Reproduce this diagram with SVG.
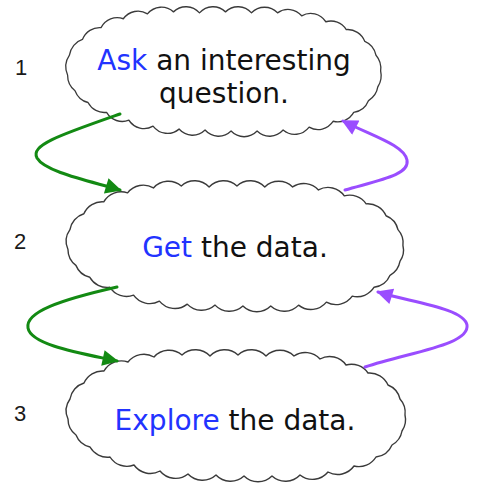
<svg xmlns="http://www.w3.org/2000/svg" xmlns:xlink="http://www.w3.org/1999/xlink" width="482" height="486" viewBox="0 0 482 486">
<style>
.cloud{fill:#fff;stroke:#3a3a3a;stroke-width:1.4;stroke-linejoin:round}
.lbl{font-family:"DejaVu Sans",Verdana,sans-serif;font-size:28px;fill:#111;text-anchor:middle}
.kw{fill:#2233ff}
.num{font-family:"Liberation Sans",Arial,sans-serif;font-size:22px;fill:#1a1a1a;text-anchor:middle}
.g{fill:none;stroke:#138a13;stroke-width:3;stroke-linecap:round}
.p{fill:none;stroke:#9a4dff;stroke-width:3;stroke-linecap:round}
</style>
<defs>
<path id="cloudShape" d="M6,72 A20,20 0 0 1 8,52 A20,20 0 0 1 22,36 A20,20 0 0 1 42,24 A20,20 0 0 1 66,15 A20,20 0 0 1 92,10 A20,20 0 0 1 120,8 A20,20 0 0 1 148,9 A20,20 0 0 1 176,8 A20,20 0 0 1 204,9 A20,20 0 0 1 232,9 A20,20 0 0 1 258,12 A20,20 0 0 1 284,18 A20,20 0 0 1 306,26 A20,20 0 0 1 326,38 A20,20 0 0 1 338,52 A20,20 0 0 1 343,68 A20,20 0 0 1 340,84 A20,20 0 0 1 330,98 A20,20 0 0 1 314,110 A20,20 0 0 1 292,119 A20,20 0 0 1 266,125 A20,20 0 0 1 238,128 A20,20 0 0 1 210,129 A20,20 0 0 1 182,129 A20,20 0 0 1 154,128 A20,20 0 0 1 126,127 A20,20 0 0 1 98,124 A20,20 0 0 1 72,118 A20,20 0 0 1 48,110 A20,20 0 0 1 28,100 A20,20 0 0 1 14,88 A20,20 0 0 1 6,72 Z"/>
<marker id="ahG" viewBox="0 0 10 10" refX="9" refY="5" markerWidth="20" markerHeight="16" markerUnits="userSpaceOnUse" orient="auto">
<path d="M0,0 L10,5 L0,10 Z" fill="#138a13"/>
</marker>
<marker id="ahP" viewBox="0 0 10 10" refX="9" refY="5" markerWidth="20" markerHeight="16" markerUnits="userSpaceOnUse" orient="auto">
<path d="M0,0 L10,5 L0,10 Z" fill="#9a4dff"/>
</marker>
</defs>
<g id="node1">
<use xlink:href="#cloudShape" class="cloud" transform="translate(62,4) scale(0.929,0.985)"/>
<text class="num" x="21" y="75">1</text>
<text class="lbl" x="224" y="70"><tspan class="kw">Ask</tspan> an interesting</text>
<text class="lbl" x="224" y="103">question.</text>
</g>
<g id="node2">
<use xlink:href="#cloudShape" class="cloud" transform="translate(62,178) scale(0.994,0.993)"/>
<text class="num" x="20" y="249">2</text>
<text class="lbl" x="235" y="257"><tspan class="kw">Get</tspan> the data.</text>
</g>
<g id="node3">
<use xlink:href="#cloudShape" class="cloud" transform="translate(62,347)"/>
<text class="num" x="20" y="421">3</text>
<text class="lbl" x="235" y="430"><tspan class="kw">Explore</tspan> the data.</text>
</g>
<g id="connectors">
<path class="g" d="M120,114 C 60,135 30,145 37,158 C 45,172 90,181 120,190" marker-end="url(#ahG)"/>
<path class="p" d="M345,190 C 380,180 410,175 407,160 C 404,145 372,136 343,121" marker-end="url(#ahP)"/>
<path class="g" d="M117,287 C 60,300 25,312 28,328 C 31,345 80,353 117,361" marker-end="url(#ahG)"/>
<path class="p" d="M365,367 C 410,352 470,345 467,325 C 464,308 410,302 378,292" marker-end="url(#ahP)"/>
</g>
</svg>
